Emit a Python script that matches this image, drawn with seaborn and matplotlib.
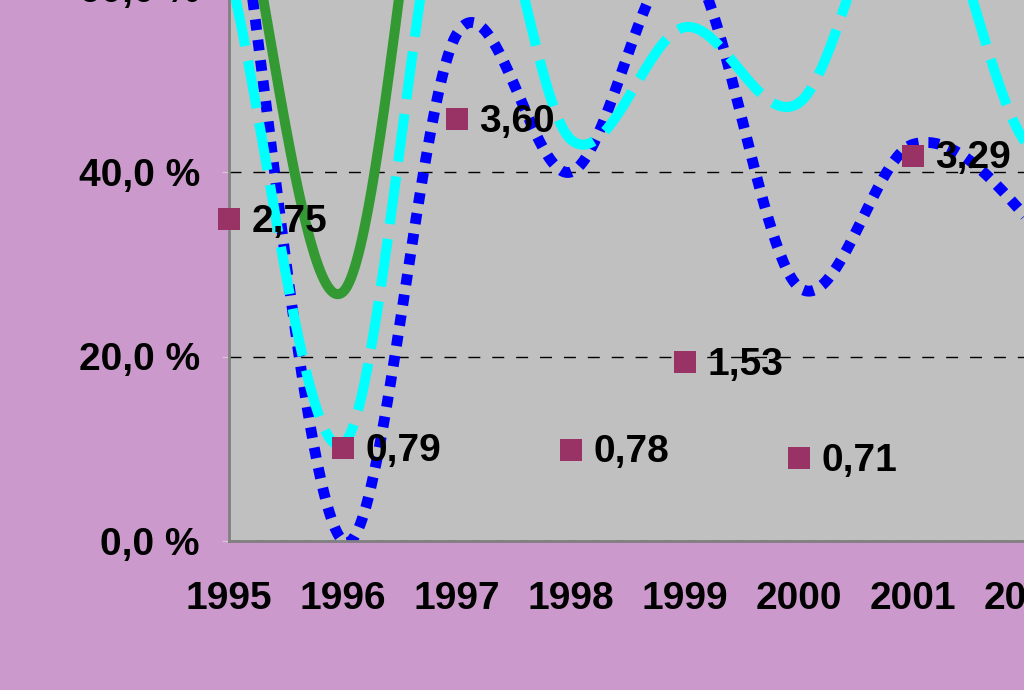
import numpy as np
import pandas as pd
import matplotlib
matplotlib.use("Agg")
import matplotlib.pyplot as plt
import seaborn as sns
from matplotlib.ticker import FuncFormatter

# ---------------- data ----------------
years = [1995, 1996, 1997, 1998, 1999, 2000, 2001, 2002, 2003]
blue_dotted = [77, 0, 55, 40, 63, 27.5, 43, 35, 15]
green_solid = [78, 27, 100, 110, 110, 110, 110, 110, 110]
cyan_dashed = [62, 10.5, 77, 43.5, 55.7, 47.5, 73, 43, 43]

marker_years = [1995, 1996, 1997, 1998, 1999, 2000, 2001]
marker_values = [2.75, 0.79, 3.60, 0.78, 1.53, 0.71, 3.29]

y_ticks = [0, 20, 40, 60]
x_ticks = years

# ---------------- helpers ----------------
def catmull_rom(xs, ys, n=60):
    """Smoothed line rendering (Excel-like smoothing) through the data points."""
    x = np.asarray(xs, float)
    y = np.asarray(ys, float)
    px = np.concatenate([[2 * x[0] - x[1]], x, [2 * x[-1] - x[-2]]])
    py = np.concatenate([[2 * y[0] - y[1]], y, [2 * y[-1] - y[-2]]])
    t = np.linspace(0, 1, n)
    ox, oy = [], []
    for i in range(1, len(px) - 2):
        for arr, out in ((px, ox), (py, oy)):
            p0, p1, p2, p3 = arr[i - 1:i + 3]
            out.append(0.5 * ((2 * p1) + (-p0 + p2) * t
                              + (2 * p0 - 5 * p1 + 4 * p2 - p3) * t ** 2
                              + (-p0 + 3 * p1 - 3 * p2 + p3) * t ** 3))
    return np.concatenate(ox), np.concatenate(oy)

# ---------------- style ----------------
sns.set_theme(style="white")
plt.rcParams['font.family'] = ['Liberation Sans', 'DejaVu Sans']
plt.rcParams['font.weight'] = 'bold'

BG = '#CC99CC'
PLOT_BG = '#C0C0C0'
FS = 28

fig = plt.figure(figsize=(10.24, 6.9), dpi=100, facecolor=BG)
x_min, x_max = 1995, 2003
y_max = 70
ratio = 12.7  # percent per unit of the marker axis
ax = fig.add_axes([229 / 1024, (690 - 541) / 690,
                   (x_max - x_min) * 114 / 1024, y_max * 9.225 / 690])
ax.set_facecolor(PLOT_BG)

line_specs = [
    (blue_dotted, '#0000FF', (0, (1.0, 0.9)), 7.8),
    (green_solid, '#339933', '-', 7.2),
    (cyan_dashed, '#00FFFF', (0, (4.8, 1.5)), 7.2),
]
for vals, color, ls, lw in line_specs:
    sx, sy = catmull_rom(years, vals)
    df = pd.DataFrame({'x': sx, 'y': sy})
    sns.lineplot(data=df, x='x', y='y', ax=ax, color=color, lw=lw,
                 sort=False, estimator=None)
    ln = ax.lines[-1]
    ln.set_linestyle(ls)
    ln.set_dash_capstyle('butt')
    ln.set_solid_joinstyle('round')
    ln.set_solid_capstyle('round')

ax.set_xlim(x_min, x_max)
ax.set_ylim(0, y_max)
ax.set_xlabel('')
ax.set_ylabel('')
ax.set_xticks(x_ticks)
ax.set_xticklabels([str(y) for y in x_ticks])
ax.set_yticks(y_ticks)
ax.yaxis.set_major_formatter(FuncFormatter(lambda v, _: f"{v:.1f} %".replace('.', ',')))
ax.tick_params(axis='x', direction='inout', length=27, width=0.8, color='#D0D0D0',
               pad=15, labelsize=FS, labelcolor='black')
ax.tick_params(axis='y', direction='out', length=5, width=0.8, color='#D0D0D0',
               pad=16, labelsize=FS, labelcolor='black')
for lab in ax.get_xticklabels() + ax.get_yticklabels():
    lab.set_fontweight('bold')

ax.set_axisbelow(True)
ax.yaxis.grid(True, color='black', lw=1.0, linestyle=(0, (8.6, 8.6)))
ax.xaxis.grid(False)
for side in ('top', 'right'):
    ax.spines[side].set_visible(False)
for side in ('left', 'bottom'):
    ax.spines[side].set_color('#808080')
    ax.spines[side].set_linewidth(2)

# markers on secondary scale
ax2 = ax.twinx()
sns.scatterplot(x=marker_years, y=marker_values, ax=ax2, marker='s', s=250,
                color='#993366', edgecolor='none', linewidth=0, zorder=5,
                clip_on=False)
ax2.set_ylim(0, y_max / ratio)
ax2.set_xlim(x_min, x_max)
ax2.set_yticks([])
ax2.set_ylabel('')
ax2.set_xlabel('')
for s in ax2.spines.values():
    s.set_visible(False)
for xv, v in zip(marker_years, marker_values):
    ax2.annotate(f"{v:.2f}".replace('.', ','), (xv, v), xytext=(16, -2),
                 textcoords='offset points', ha='left', va='center',
                 fontsize=FS, fontweight='bold', color='black', zorder=6)

fig.savefig('out.png', dpi=100, facecolor=BG)
